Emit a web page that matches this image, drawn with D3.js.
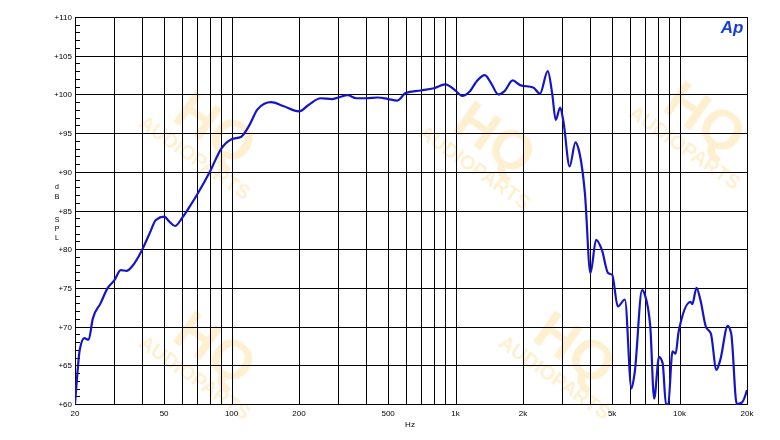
<!DOCTYPE html>
<html><head><meta charset="utf-8">
<script src="https://cdn.jsdelivr.net/npm/d3@7"></script>
<style>body{margin:0;background:#fff}svg{display:block}</style>
</head><body>
<svg id="c" width="780" height="440"></svg>
<script>
const freqs=[20,20.5,21,22,23,24,26,28,30,32,34,36,40,43,46,50,53,56,60,65,70,80,90,100,110,120,130,140,150,170,200,220,250,280,300,330,360,400,450,500,550,600,700,800,900,1000,1070,1150,1250,1350,1450,1550,1650,1800,1940,2220,2380,2580,2700,2800,2930,3030,3230,3430,3550,3780,4000,4240,4500,4800,5000,5300,5700,6100,6300,6800,7000,7400,7700,8100,8400,8700,8900,9300,9600,9900,11200,11400,11900,12400,13100,13800,14600,15200,16400,17000,18000,19000,20000];
const spl=[60,64,67,68.5,68.3,71,73,75,76,77.3,77.2,77.8,80,82,83.8,84.2,83.5,83,84,85.5,87,90,93,94.2,94.5,96,98,98.8,99,98.5,97.8,98.6,99.5,99.4,99.6,99.9,99.5,99.5,99.6,99.4,99.2,100.2,100.5,100.8,101.3,100.5,99.8,100.3,101.8,102.5,101.3,100,100.4,101.8,101.2,100.9,100.1,103,100.1,96.7,98.3,96.5,90.7,93.8,92.8,87.2,76.9,81.2,79.9,76.9,76.7,72.6,73.5,62,64,74.7,74.1,70,60.7,66.1,65.3,59.9,60,66.8,66.5,69.3,73.2,72.9,75,73.4,70,69.1,64.4,65.7,70.1,69.1,60,60.2,61.8];
const xTicks=[20,50,100,200,500,1000,2000,5000,10000,20000];
const xTickLabels=["20","50","100","200","500","1k","2k","5k","10k","20k"];
const xGrid=[30,40,50,60,70,80,90,100,200,300,400,500,600,700,800,900,1000,2000,3000,4000,5000,6000,7000,8000,9000,10000];
const yTicks=[60,65,70,75,80,85,90,95,100,105,110];

const svg=d3.select("#c");
const L=75,R=747,T=17,B=404;
const x=d3.scaleLog().domain([20,20000]).range([L,R]);
const y=d3.scaleLinear().domain([60,110]).range([B,T]);
const px=v=>Math.round(v)+0.5;

// watermark
const wm=svg.append("g").attr("fill","#fbd98a").attr("opacity",0.4).attr("font-family","Liberation Sans, Arial").attr("font-weight","bold");
[[200,150],[480,160],[690,140],[200,370],[560,370]].forEach(([cx,cy])=>{
  const g=wm.append("g").attr("transform",`translate(${cx},${cy}) rotate(35)`);
  g.append("text").attr("text-anchor","middle").attr("font-size",56).attr("y",-8).text("HQ");
  g.append("text").attr("text-anchor","middle").attr("font-size",20).attr("y",16).text("AUDIOPARTS");
});

const grid=svg.append("g").attr("stroke","#000").attr("stroke-width",1).attr("shape-rendering","crispEdges");
xGrid.forEach(f=>grid.append("line").attr("x1",px(x(f))).attr("x2",px(x(f))).attr("y1",T).attr("y2",B));
yTicks.forEach(v=>grid.append("line").attr("x1",L).attr("x2",R).attr("y1",px(y(v))).attr("y2",px(y(v))));
grid.append("rect").attr("x",L+0.5).attr("y",T+0.5).attr("width",R-L).attr("height",B-T).attr("fill","none").attr("stroke-width",1.5);
d3.range(60,110,1).forEach(v=>grid.append("line").attr("x1",L).attr("x2",L+5).attr("y1",px(y(v))).attr("y2",px(y(v))));

const ft="Liberation Sans, Arial, sans-serif";
svg.append("g").selectAll("text").data(yTicks).join("text")
 .attr("x",L-3).attr("y",d=>y(d)+3).attr("text-anchor","end").attr("font-family",ft).attr("font-size",8).text(d=>"+"+d);
svg.append("g").selectAll("text").data(xTicks).join("text")
 .attr("x",d=>x(d)).attr("y",B+12).attr("text-anchor","middle").attr("font-family",ft).attr("font-size",8).text((d,i)=>xTickLabels[i]);
svg.append("text").attr("x",410).attr("y",427).attr("text-anchor","middle").attr("font-family",ft).attr("font-size",8).text("Hz");
[["d",189],["B",199],["S",222],["P",231],["L",240]].forEach(([c,yy])=>svg.append("text").attr("x",57).attr("y",yy).attr("text-anchor","middle").attr("font-family",ft).attr("font-size",7).text(c));
svg.append("text").attr("x",732).attr("y",33).attr("text-anchor","middle").attr("font-family",ft).attr("font-size",17).attr("font-weight","bold").attr("font-style","italic").attr("fill","#1a3fd6").text("Ap");

svg.append("defs").append("clipPath").attr("id","cp").append("rect").attr("x",L).attr("y",T).attr("width",R-L).attr("height",B-T+1);
const line=d3.line().x((d,i)=>x(freqs[i])).y(d=>y(d)).curve(d3.curveMonotoneX);
svg.append("path").datum(spl).attr("clip-path","url(#cp)").attr("d",line).attr("fill","none").attr("stroke","#1515c8").attr("stroke-width",2.2);
</script>
</body></html>
